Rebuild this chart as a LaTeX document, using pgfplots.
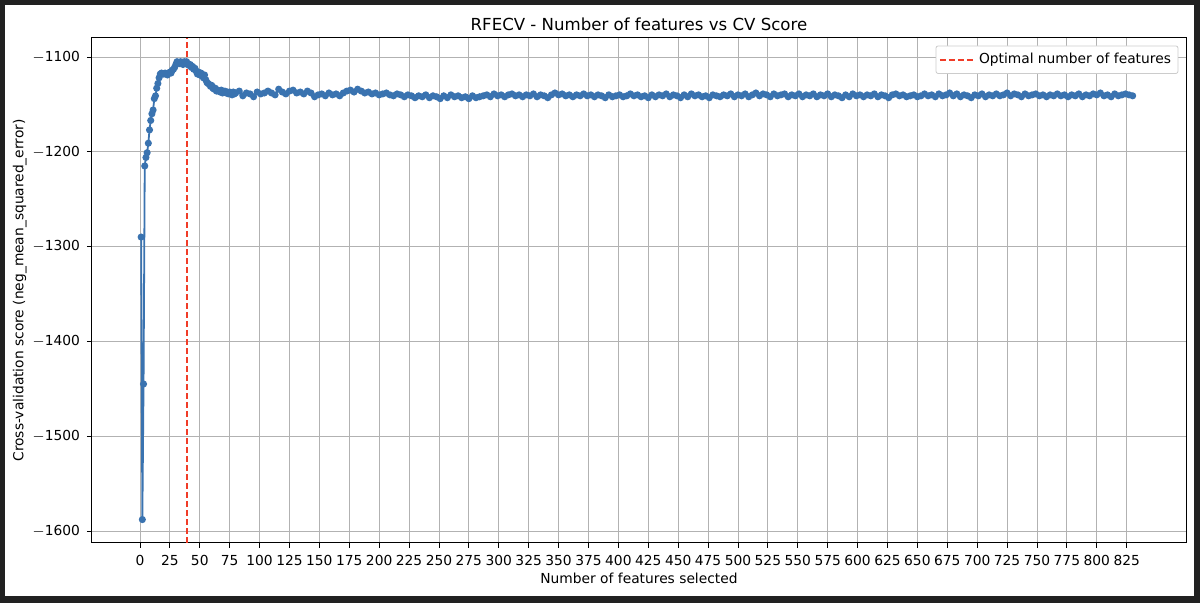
\documentclass[border=0pt]{standalone}
\usepackage{pgfplots}
\pgfplotsset{compat=1.18}
\usepackage{fontspec}
\setmainfont{DejaVu Sans}
\definecolor{cvblue}{HTML}{3A73B0}
\definecolor{optred}{HTML}{F03C28}
\begin{document}
\begin{tikzpicture}
\fill[black!87] (-46pt,-30pt) rectangle (554pt,271.5pt);
\fill[white] (-43.5pt,-26.5pt) rectangle (551pt,269pt);
\begin{axis}[
  scale only axis, width=547pt, height=252.5pt,
  xmin=-40.1, xmax=874.6, ymin=-1612.7, ymax=-1080,
  xtick={0,25,...,825}, ytick={-1600,-1500,...,-1100},
  grid=major, grid style={gray!60, line width=0.4pt},
  axis line style={black, line width=0.5pt},
  tick style={black, line width=0.4pt}, tick align=outside,
  xtick pos=bottom, ytick pos=left,
  major tick length=2.5pt,
  ticklabel style={font=\fontsize{6.9}{8}\selectfont},
  /pgf/number format/assume math mode=true,
  /pgf/number format/.cd, set thousands separator={}, 1000 sep={}, /pgfplots/.cd,
  yticklabel={\pgfmathparse{-\tick}\(-\)\pgfmathprintnumber[assume math mode=true,1000 sep={}]{\pgfmathresult}},
  label style={font=\fontsize{6.9}{8}\selectfont},
  xlabel={Number of features selected},
  ylabel={Cross-validation score (neg\_mean\_squared\_error)},
  xlabel style={yshift=3pt}, ylabel style={yshift=-4pt},
  title={RFECV - Number of features vs CV Score},
  title style={font=\fontsize{8.3}{10}\selectfont, yshift=-6pt},
  legend style={at={(0.993,0.985)}, anchor=north east, font=\fontsize{6.9}{8}\selectfont, draw=gray!40, rounded corners=1pt, inner sep=1.5pt},
  legend cell align=left,
]
\addplot[cvblue, line width=0.9pt, mark=*, mark size=1.3pt, mark options={fill=cvblue,draw=cvblue}, forget plot] coordinates {
(1,-1290)(2,-1588)(3,-1445)(4,-1215)(5,-1206)(6,-1201)(7,-1191)(8,-1177)(9,-1167)(10,-1160)
(11,-1156)(12,-1144)(13,-1141)(14,-1133)(15,-1128)(16,-1122)(17,-1118)(18,-1117)(19,-1118)(20,-1118)
(21,-1117)(22,-1118)(23,-1119)(24,-1117)(25,-1116)(26,-1117)(27,-1114)(28,-1113)(29,-1111)(30,-1108)
(31,-1105)(32,-1106)(33,-1107)(34,-1105)(35,-1106)(36,-1108)(37,-1105)(38,-1106)(39,-1105)(40,-1108)
(41,-1109)(42,-1108)(43,-1111)(44,-1110)(45,-1113)(46,-1112)(47,-1115)(48,-1118)(49,-1116)(50,-1119)
(51,-1117)(52,-1120)(53,-1122)(54,-1119)(55,-1124)(56,-1127)(57,-1128)(58,-1129)(59,-1131)(60,-1130)
(61,-1133)(62,-1134)(63,-1133)(64,-1136)(65,-1135)(66,-1136)(67,-1137)(68,-1135)(69,-1138)(70,-1137)
(71,-1136)(72,-1138)(73,-1137)(74,-1139)(75,-1137)(76,-1138)(77,-1140)(78,-1137)(79,-1139)(80,-1138)
(83,-1136)(86,-1141)(89,-1138)(92,-1139)(95,-1142)(98,-1137)(101,-1139)(104,-1138)(107,-1136)(110,-1138)
(113,-1140)(116,-1134)(119,-1137)(122,-1139)(125,-1136)(128,-1135)(131,-1138)(134,-1137)(137,-1139)(140,-1136)
(143,-1138)(146,-1142)(149,-1140)(152,-1139)(155,-1141)(158,-1138)(161,-1140)(164,-1139)(167,-1141)(170,-1138)
(173,-1136)(176,-1135)(179,-1137)(182,-1134)(185,-1136)(188,-1138)(191,-1137)(194,-1139)(197,-1138)(200,-1140)
(203,-1139)(206,-1138)(209,-1140)(212,-1141)(215,-1139)(218,-1140)(221,-1142)(224,-1140)(227,-1141)(230,-1143)
(233,-1141)(236,-1142)(239,-1140)(242,-1143)(245,-1141)(248,-1142)(251,-1144)(254,-1141)(257,-1143)(260,-1140)
(263,-1142)(266,-1141)(269,-1143)(272,-1142)(275,-1144)(278,-1141)(281,-1143)(284,-1142)(287,-1141)(290,-1140)
(293,-1142)(296,-1139)(299,-1141)(302,-1140)(305,-1142)(308,-1140)(311,-1139)(314,-1141)(317,-1140)(320,-1142)
(323,-1140)(326,-1141)(329,-1139)(332,-1142)(335,-1140)(338,-1141)(341,-1143)(344,-1140)(347,-1138)(350,-1140)
(353,-1139)(356,-1141)(359,-1140)(362,-1142)(365,-1140)(368,-1141)(371,-1139)(374,-1141)(377,-1140)(380,-1142)
(383,-1140)(386,-1141)(389,-1143)(392,-1140)(395,-1142)(398,-1141)(401,-1140)(404,-1142)(407,-1141)(410,-1139)
(413,-1141)(416,-1140)(419,-1142)(422,-1141)(425,-1143)(428,-1140)(431,-1142)(434,-1140)(437,-1141)(440,-1139)
(443,-1142)(446,-1140)(449,-1141)(452,-1143)(455,-1140)(458,-1142)(461,-1139)(464,-1141)(467,-1140)(470,-1142)
(473,-1141)(476,-1143)(479,-1140)(482,-1141)(485,-1142)(488,-1140)(491,-1141)(494,-1139)(497,-1142)(500,-1140)
(503,-1141)(506,-1139)(509,-1142)(512,-1140)(515,-1138)(518,-1141)(521,-1139)(524,-1140)(527,-1142)(530,-1139)
(533,-1141)(536,-1140)(539,-1139)(542,-1142)(545,-1140)(548,-1141)(551,-1139)(554,-1142)(557,-1140)(560,-1141)
(563,-1139)(566,-1142)(569,-1140)(572,-1141)(575,-1139)(578,-1142)(581,-1140)(584,-1141)(587,-1143)(590,-1140)
(593,-1142)(596,-1139)(599,-1141)(602,-1140)(605,-1142)(608,-1140)(611,-1141)(614,-1139)(617,-1142)(620,-1140)
(623,-1141)(626,-1143)(629,-1140)(632,-1139)(635,-1141)(638,-1140)(641,-1142)(644,-1141)(647,-1140)(650,-1142)
(653,-1141)(656,-1139)(659,-1141)(662,-1140)(665,-1142)(668,-1139)(671,-1141)(674,-1140)(677,-1138)(680,-1141)
(683,-1139)(686,-1142)(689,-1140)(692,-1141)(695,-1143)(698,-1140)(701,-1141)(704,-1139)(707,-1142)(710,-1140)
(713,-1141)(716,-1139)(719,-1141)(722,-1140)(725,-1138)(728,-1141)(731,-1139)(734,-1140)(737,-1142)(740,-1139)
(743,-1141)(746,-1140)(749,-1139)(752,-1141)(755,-1140)(758,-1142)(761,-1140)(764,-1141)(767,-1139)(770,-1141)
(773,-1140)(776,-1142)(779,-1140)(782,-1141)(785,-1139)(788,-1142)(791,-1140)(794,-1141)(797,-1139)(800,-1140)
(803,-1138)(806,-1141)(809,-1140)(812,-1142)(815,-1139)(818,-1141)(821,-1140)(824,-1139)(827,-1140)(830,-1141)
};
\addplot[optred, line width=0.9pt, dash pattern=on 3pt off 1.5pt] coordinates {(39,-1612.7)(39,-1080)};
\addlegendentry{Optimal number of features}
\end{axis}
\end{tikzpicture}
\end{document}
